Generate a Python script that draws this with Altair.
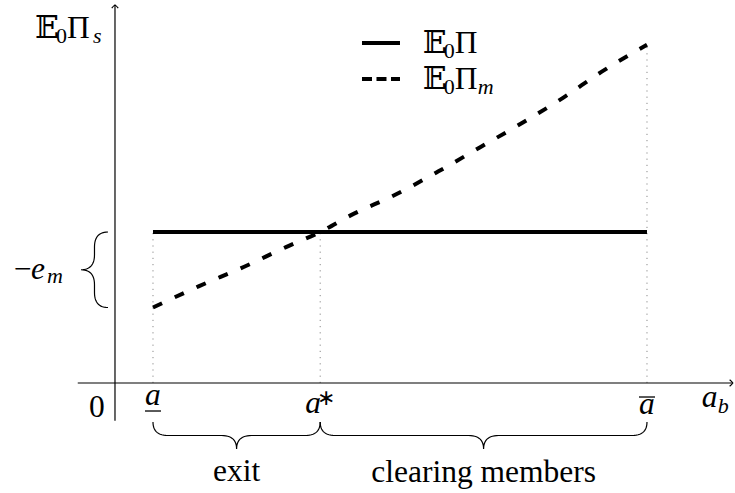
import altair as alt
import numpy as np
import pandas as pd

# ---------------------------------------------------------------------------
# Values
# ---------------------------------------------------------------------------
# thresholds on the a_b axis: lower bound, switching point, upper bound
a_thresholds = [0.5, 2.7, 7.0]
a_low, a_star, a_bar = a_thresholds

# E0 Pi: flat expected profit over [a_low, a_bar]
flat_x = [0.5, 7.0]
flat_y = [5.0, 5.0]

# E0 Pi_m: expected profit as a clearing member, rising and slightly convex
curve_x = [0.5, 1.1, 1.7, 2.25, 2.7, 3.1, 3.7, 4.25, 4.8, 5.35, 5.9, 6.4, 7.0]
curve_y = [2.5, 3.2, 3.85, 4.5, 5.0, 5.55, 6.25, 7.0, 7.8, 8.6, 9.45, 10.3, 11.2]

# axis extents (data units)
x_axis_span = [-0.49, 8.13]
y_axis_span = [-1.25, 12.52]

# text
y_title = ["𝔼", "0", "Π", "s"]
legend_solid = ["𝔼", "0", "Π"]
legend_dashed = ["𝔼", "0", "Π", "m"]
brace_left_text = ["−", "e", "m"]
tick_texts = ["0", "a", "a", "∗", "a", "a", "b"]
region_labels = ["exit", "clearing members"]

# ---------------------------------------------------------------------------
# Canvas and scales
# ---------------------------------------------------------------------------
W, H = 735, 493
x_dom = [-1.513, 8.158]
y_dom = [-3.642, 12.682]
SX = W / (x_dom[1] - x_dom[0])
SY = H / (y_dom[1] - y_dom[0])

xs = alt.Scale(domain=x_dom, nice=False, zero=False)
ys = alt.Scale(domain=y_dom, nice=False, zero=False)

SERIF = "Liberation Serif"
BB = "DejaVu Serif, DejaVu Sans"
BIG, SUB = 31.5, 22


def X(field="x"):
    return alt.X(f"{field}:Q", scale=xs, axis=None)


def Y(field="y"):
    return alt.Y(f"{field}:Q", scale=ys, axis=None)


def label(text, x, y, dx=0, dy=0, size=BIG, italic=False, align="left", font=SERIF):
    df = pd.DataFrame({"x": [x], "y": [y], "t": [text]})
    props = dict(align=align, baseline="alphabetic", dx=dx, dy=dy, fontSize=size,
                 font=font, color="black")
    if italic:
        props["fontStyle"] = "italic"
    return alt.Chart(df).mark_text(**props).encode(x=X(), y=Y(), text="t:N")


def brace(x0, y0, x1, y1, amp=27.0, r=15.0, n=14):
    """Curly brace between two data points; the tip bulges to the left of the
    direction of travel in screen space. Returns data coordinates."""
    p0 = np.array([(x0 - x_dom[0]) * SX, (y_dom[1] - y0) * SY])
    p1 = np.array([(x1 - x_dom[0]) * SX, (y_dom[1] - y1) * SY])
    length = np.linalg.norm(p1 - p0)
    u = (p1 - p0) / length
    nrm = np.array([-u[1], u[0]])
    L, h = length / 2, amp / 2
    r = min(r, L / 2)
    t = np.linspace(0, 1, n)

    def quad(a, c, b):
        a, c, b = map(np.array, (a, c, b))
        return [(1 - s) ** 2 * a + 2 * (1 - s) * s * c + s ** 2 * b for s in t]

    pts = []
    pts += quad((0, 0), (0, h), (r, h))
    pts += quad((L - r, h), (L, h), (L, amp))
    pts += quad((L, amp), (L, h), (L + r, h))
    pts += quad((2 * L - r, h), (2 * L, h), (2 * L, 0))
    out = []
    for s_, t_ in pts:
        P = p0 + s_ * u + t_ * nrm
        out.append((P[0] / SX + x_dom[0], y_dom[1] - P[1] / SY))
    return out


# ---------------------------------------------------------------------------
# Axes with arrow tips
# ---------------------------------------------------------------------------
axes_df = pd.DataFrame({
    "x": [x_axis_span[0], 0.0],
    "x2": [x_axis_span[1], 0.0],
    "y": [0.0, y_axis_span[0]],
    "y2": [0.0, y_axis_span[1]],
})
axes = alt.Chart(axes_df).mark_rule(color="black", strokeWidth=1.2).encode(
    x=X(), x2="x2:Q", y=Y(), y2="y2:Q"
)

tip_up = "M -1 1 C -0.55 0.45 -0.2 0.15 0 0 C 0.2 0.15 0.55 0.45 1 1"
tip_right = "M -1 -1 C -0.45 -0.55 -0.15 -0.2 0 0 C -0.15 0.2 -0.45 0.55 -1 1"
arrow_up = alt.Chart(pd.DataFrame({"x": [0.0], "y": [y_axis_span[1]]})).mark_point(
    shape=tip_up, size=42, filled=False, stroke="black", strokeWidth=1.2, opacity=1
).encode(x=X(), y=Y())
arrow_right = alt.Chart(pd.DataFrame({"x": [x_axis_span[1]], "y": [0.0]})).mark_point(
    shape=tip_right, size=42, filled=False, stroke="black", strokeWidth=1.2, opacity=1
).encode(x=X(), y=Y())

# ---------------------------------------------------------------------------
# Dotted guides from the curves down to the a_b axis
# ---------------------------------------------------------------------------
guides_df = pd.DataFrame({
    "x": a_thresholds,
    "y": [0.0, 0.0, 0.0],
    "y2": [flat_y[0], flat_y[0], curve_y[-1]],
})
guides = alt.Chart(guides_df).mark_rule(
    color="#8a8a8a", strokeWidth=1, strokeDash=[1.2, 5]
).encode(x=X(), y=Y(), y2="y2:Q")

# ---------------------------------------------------------------------------
# Profit lines
# ---------------------------------------------------------------------------
flat = alt.Chart(pd.DataFrame({"x": flat_x, "y": flat_y})).mark_line(
    color="black", strokeWidth=4
).encode(x=X(), y=Y())

member = alt.Chart(pd.DataFrame({"x": curve_x, "y": curve_y})).mark_line(
    color="black", strokeWidth=4, strokeDash=[10, 14], interpolate="monotone"
).encode(x=X(), y=Y())

# ---------------------------------------------------------------------------
# Legend
# ---------------------------------------------------------------------------
leg_x = [3.25, 3.75]
leg_text_x = 4.05
leg_y = [11.26, 10.07]
leg_solid = alt.Chart(pd.DataFrame({"x": [leg_x[0]], "x2": [leg_x[1]], "y": [leg_y[0]]})).mark_rule(
    color="black", strokeWidth=4
).encode(x=X(), x2="x2:Q", y=Y())
leg_dashed = alt.Chart(pd.DataFrame({"x": [leg_x[0]], "x2": [leg_x[1]], "y": [leg_y[1]]})).mark_rule(
    color="black", strokeWidth=4, strokeDash=[10, 4.5]
).encode(x=X(), x2="x2:Q", y=Y())

legend_layers = [
    label(legend_solid[0], leg_text_x, leg_y[0], dx=0, dy=10, font=BB),
    label(legend_solid[1], leg_text_x, leg_y[0], dx=21, dy=15, size=SUB),
    label(legend_solid[2], leg_text_x, leg_y[0], dx=32, dy=10),
    label(legend_dashed[0], leg_text_x, leg_y[1], dx=0, dy=10, font=BB),
    label(legend_dashed[1], leg_text_x, leg_y[1], dx=21, dy=15, size=SUB),
    label(legend_dashed[2], leg_text_x, leg_y[1], dx=32, dy=10),
    label(legend_dashed[3], leg_text_x, leg_y[1], dx=55, dy=15, size=SUB, italic=True),
]

# ---------------------------------------------------------------------------
# Axis labels
# ---------------------------------------------------------------------------
yt = y_axis_span[1]
title_layers = [
    label(y_title[0], 0.0, yt, dx=-80, dy=33, font=BB),
    label(y_title[1], 0.0, yt, dx=-59, dy=38, size=SUB),
    label(y_title[2], 0.0, yt, dx=-48, dy=33),
    label(y_title[3], 0.0, yt, dx=-22, dy=38, size=SUB, italic=True),
]

tick_layers = [
    label(tick_texts[0], 0.0, 0.0, dx=-18, dy=34, align="center"),
    label(tick_texts[1], a_low, 0.0, dx=0, dy=22, align="center", italic=True),
    label(tick_texts[2], a_star, 0.0, dx=-7, dy=30, align="center", italic=True),
    label(tick_texts[3], a_star, 0.0, dx=6, dy=22, size=SUB, align="center"),
    label(tick_texts[4], a_bar, 0.0, dx=0, dy=31, align="center", italic=True),
    label(tick_texts[5], x_axis_span[1], 0.0, dx=-31, dy=24, italic=True),
    label(tick_texts[6], x_axis_span[1], 0.0, dx=-15, dy=30, size=SUB, italic=True),
]

bar_shape = "M -1 0 L 1 0"
under_bar = alt.Chart(pd.DataFrame({"x": [a_low], "y": [0.0]})).mark_point(
    shape=bar_shape, size=256, filled=False, stroke="black", strokeWidth=1.3,
    opacity=1, yOffset=28
).encode(x=X(), y=Y())
over_bar = alt.Chart(pd.DataFrame({"x": [a_bar], "y": [0.0]})).mark_point(
    shape=bar_shape, size=256, filled=False, stroke="black", strokeWidth=1.3,
    opacity=1, yOffset=14
).encode(x=X(), y=Y())

# ---------------------------------------------------------------------------
# Braces and their labels
# ---------------------------------------------------------------------------
left_x = -7 / SX            # just left of the vertical axis
below_y = -39 / SY          # below the a_b tick labels
brace_rows = []
specs = [
    ("left", left_x, flat_y[0], left_x, curve_y[0]),
    ("exit", a_low, below_y, a_star, below_y),
    ("members", a_star, below_y, a_bar, below_y),
]
for name, x0, y0, x1, y1 in specs:
    for i, (bx, by) in enumerate(brace(x0, y0, x1, y1)):
        brace_rows.append({"brace": name, "i": i, "x": bx, "y": by})
braces = alt.Chart(pd.DataFrame(brace_rows)).mark_line(
    color="black", strokeWidth=1.2
).encode(x=X(), y=Y(), detail="brace:N", order="i:Q")

em_y = (flat_y[0] + curve_y[0]) / 2
brace_text_layers = [
    label(brace_left_text[0], 0.0, em_y, dx=-101, dy=9),
    label(brace_left_text[1], 0.0, em_y, dx=-84, dy=9, italic=True),
    label(brace_left_text[2], 0.0, em_y, dx=-68, dy=13, size=SUB, italic=True),
    label(region_labels[0], (a_low + a_star) / 2, 0.0, dy=98, align="center"),
    label(region_labels[1], (a_star + a_bar) / 2, 0.0, dy=99, align="center"),
]

chart = alt.layer(
    guides, axes, arrow_up, arrow_right, flat, member,
    leg_solid, leg_dashed, braces, under_bar, over_bar,
    *legend_layers, *title_layers, *tick_layers, *brace_text_layers,
).properties(
    width=W, height=H, padding=0,
    autosize=alt.AutoSizeParams(type="none"),
    background="white",
).configure_view(stroke=None)

chart.save("out.html", embed_options={"renderer": "svg", "actions": False})
